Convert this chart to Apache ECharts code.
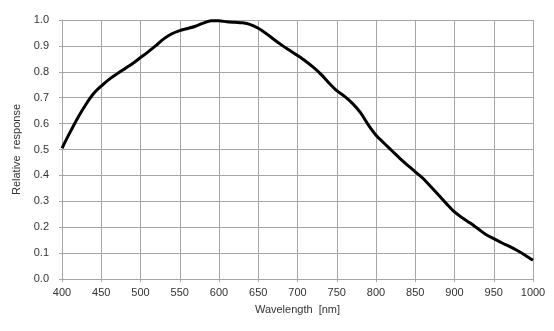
<!DOCTYPE html>
<html>
<head>
<meta charset="utf-8">
<script src="https://cdn.jsdelivr.net/npm/echarts@6/dist/echarts.min.js"></script>
<style>
html,body{margin:0;padding:0;background:#fff;}
#c{width:554px;height:331px;}
</style>
</head>
<body>
<div id="c"></div>
<script>
const wavelengths = [400,410,420,430,440,450,460,470,480,490,500,510,520,530,540,550,560,570,580,590,600,610,620,630,640,650,660,670,680,690,700,710,720,730,740,750,760,770,780,790,800,810,820,830,840,850,860,870,880,890,900,910,920,930,940,950,960,970,980,990,1000];
const response = [0.505,0.565,0.622,0.672,0.715,0.745,0.771,0.792,0.812,0.832,0.855,0.878,0.902,0.928,0.947,0.959,0.967,0.976,0.988,0.997,0.997,0.993,0.991,0.989,0.982,0.968,0.948,0.925,0.903,0.883,0.863,0.842,0.818,0.790,0.757,0.727,0.705,0.678,0.643,0.596,0.555,0.525,0.496,0.467,0.440,0.414,0.388,0.356,0.323,0.290,0.259,0.236,0.216,0.194,0.172,0.156,0.140,0.126,0.110,0.092,0.072];
const xAxisTitle = 'Wavelength  [nm]';
const yAxisTitle = 'Relative  response';

const font = 'Liberation Sans, Arial, sans-serif';
const gridColor = '#a6a6a6';
const chart = echarts.init(document.getElementById('c'), null, {renderer:'canvas'});
chart.setOption({
  animation:false,
  backgroundColor:'#fff',
  grid:{left:62,right:21,top:20,bottom:52,containLabel:false},
  xAxis:{
    type:'value',min:400,max:1000,interval:50,
    name:xAxisTitle,nameLocation:'middle',nameGap:25,
    nameTextStyle:{fontFamily:font,fontSize:11,color:'#333'},
    axisLine:{show:true,lineStyle:{color:gridColor,width:1}},
    axisTick:{show:true,length:3,lineStyle:{color:gridColor}},
    axisLabel:{fontFamily:font,fontSize:11,color:'#333',margin:8,formatter:v=>String(v)},
    splitLine:{show:true,lineStyle:{color:gridColor,width:1}}
  },
  yAxis:{
    type:'value',min:0,max:1,interval:0.1,
    name:yAxisTitle,nameLocation:'middle',nameGap:31,nameRotate:90,
    nameTextStyle:{fontFamily:font,fontSize:11,color:'#333'},
    axisLine:{show:true,lineStyle:{color:gridColor,width:1}},
    axisTick:{show:true,length:3,lineStyle:{color:gridColor}},
    axisLabel:{fontFamily:font,fontSize:11,color:'#333',margin:13,formatter:v=>v.toFixed(1)},
    splitLine:{show:true,lineStyle:{color:gridColor,width:1}}
  },
  series:[{
    type:'line',
    data:wavelengths.map((w,i)=>[w,response[i]]),
    smooth:0.3,
    symbol:'none',
    lineStyle:{color:'#000',width:3}
  }]
});
</script>
</body>
</html>
